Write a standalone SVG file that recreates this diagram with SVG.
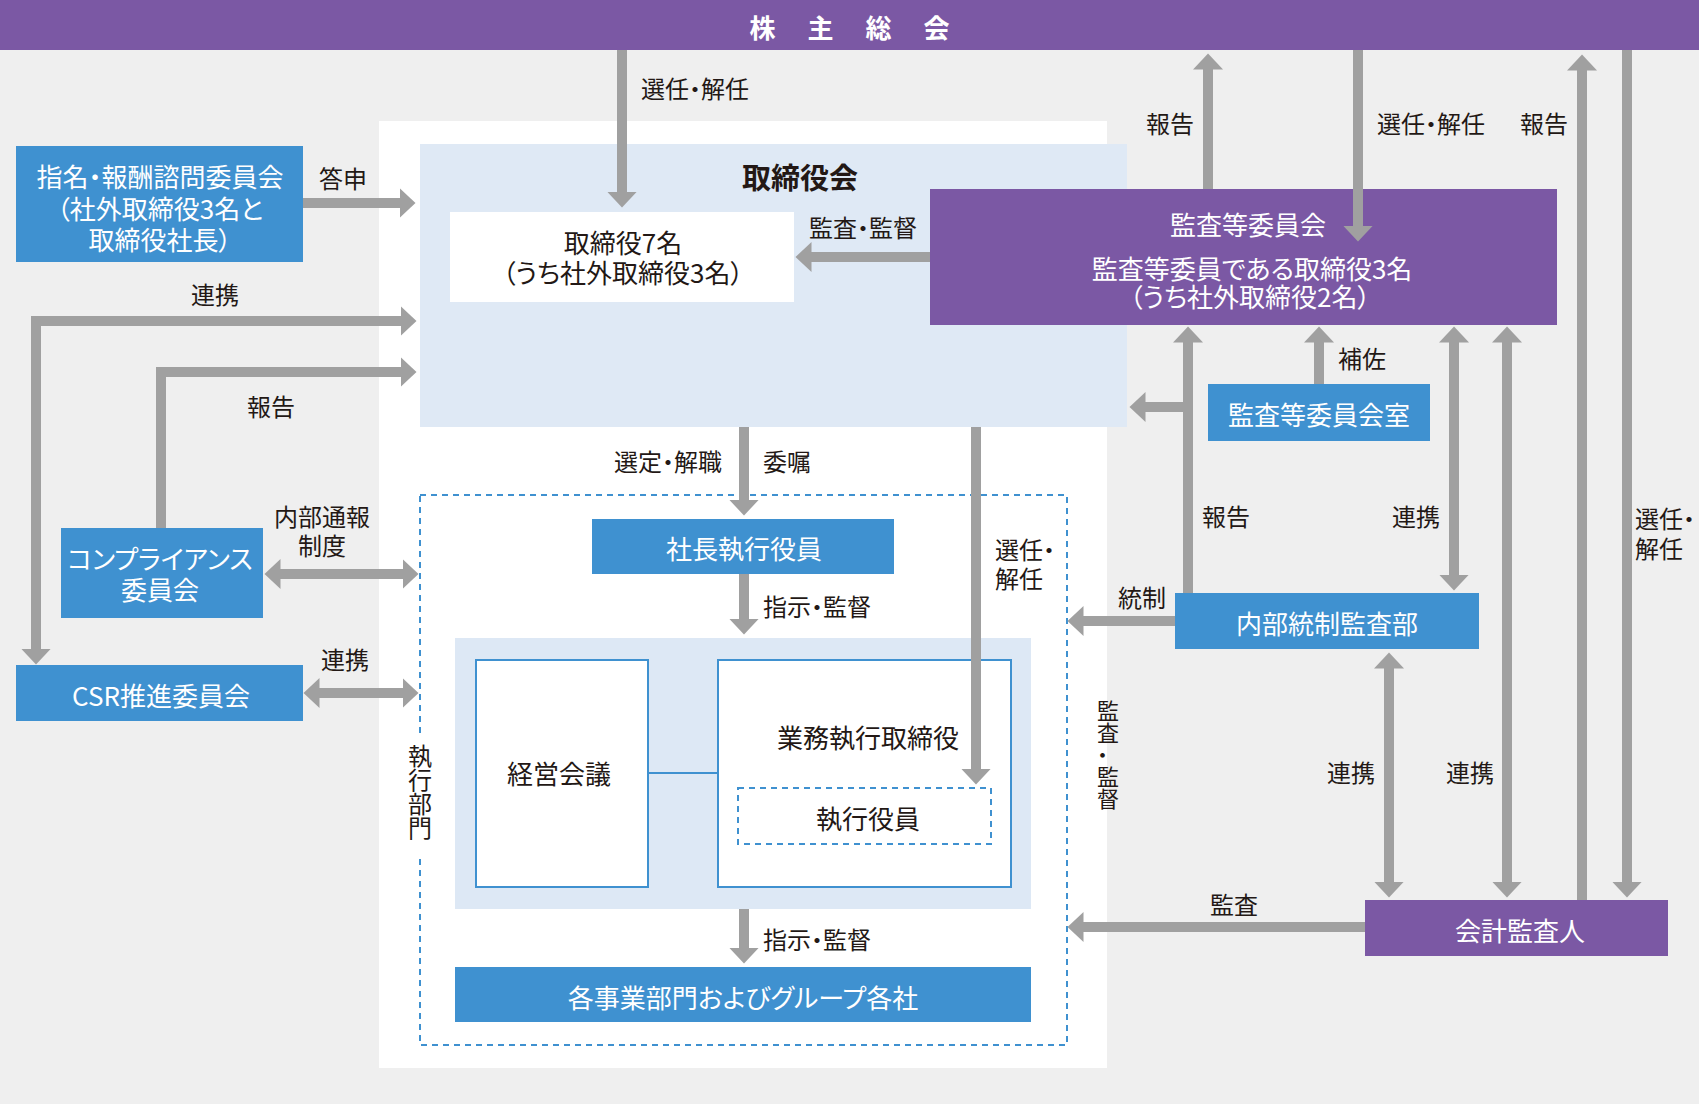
<svg xmlns="http://www.w3.org/2000/svg" width="1699" height="1104" viewBox="0 0 1699 1104">
<defs>
<style>
text{font-family:'Noto Sans CJK JP','Noto Sans',sans-serif;font-feature-settings:"palt";}
.arr{stroke:#a0a0a0;stroke-width:10;fill:none;}
.ah{marker-end:url(#ah);}
.both{marker-start:url(#ah);marker-end:url(#ah);}
.lbl{font-size:24px;fill:#231815;text-anchor:middle;dominant-baseline:central;}
.lbs{font-size:24px;fill:#231815;text-anchor:start;dominant-baseline:central;}
.vt{fill:#231815;writing-mode:vertical-rl;text-anchor:start;}
.nt{font-size:26px;fill:#ffffff;text-anchor:middle;dominant-baseline:central;}
.dt{font-size:26px;fill:#231815;text-anchor:middle;dominant-baseline:central;}
.blue{fill:#3f91d0;}
.purple{fill:#7b58a4;}
.wbox{fill:#ffffff;stroke:#3f91d0;stroke-width:2;}
.dash{fill:none;stroke:#3f91d0;stroke-width:2;stroke-dasharray:6 5;}
</style>
<marker id="ah" markerUnits="userSpaceOnUse" markerWidth="17" markerHeight="32" viewBox="0 0 17 32" refX="0.5" refY="16" orient="auto-start-reverse">
<path d="M0,1 L16,16 L0,31 z" fill="#a0a0a0"/>
</marker>
</defs>
<rect x="0" y="0" width="1699" height="1104" fill="#efefef"/>
<rect x="379" y="121" width="728" height="947" fill="#ffffff"/>

<g id="shareholders">
<rect x="0" y="0" width="1699" height="50" class="purple"/>
<text x="851" y="26" font-size="26" font-weight="bold" fill="#ffffff" text-anchor="middle" dominant-baseline="central" letter-spacing="3">株　主　総　会</text>
</g>

<g id="board">
<rect x="420" y="144" width="707" height="283" fill="#dfe9f5"/>
<text x="800" y="176" font-size="29" font-weight="bold" fill="#231815" text-anchor="middle" dominant-baseline="central">取締役会</text>
</g>
<g id="directors">
<rect x="450" y="212" width="344" height="90" fill="#ffffff"/>
<text class="dt" x="623" y="241">取締役7名</text>
<text class="dt" x="623" y="271">（うち社外取締役3名）</text>
</g>
<g id="audit-committee">
<rect x="930" y="189" width="627" height="136" class="purple"/>
<text class="nt" x="1248" y="223">監査等委員会</text>
<text class="nt" x="1252" y="267">監査等委員である取締役3名</text>
<text class="nt" x="1250" y="295">（うち社外取締役2名）</text>
</g>
<g id="nomination">
<rect x="16" y="146" width="287" height="116" class="blue"/>
<text class="nt" x="160" y="175">指名・報酬諮問委員会</text>
<text class="nt" x="160" y="207">（社外取締役3名と</text>
<text class="nt" x="160" y="238">取締役社長）</text>
</g>
<g id="compliance">
<rect x="61" y="528" width="202" height="90" class="blue"/>
<text class="nt" x="160" y="557">コンプライアンス</text>
<text class="nt" x="160" y="588">委員会</text>
</g>
<g id="csr">
<rect x="16" y="665" width="287" height="56" class="blue"/>
<text class="nt" x="161" y="694">CSR推進委員会</text>
</g>
<g id="audit-office">
<rect x="1208" y="384" width="222" height="57" class="blue"/>
<text class="nt" x="1319" y="413">監査等委員会室</text>
</g>
<g id="internal-audit">
<rect x="1175" y="593" width="304" height="56" class="blue"/>
<text class="nt" x="1327" y="622">内部統制監査部</text>
</g>
<g id="accounting-auditor">
<rect x="1365" y="900" width="303" height="56" class="purple"/>
<text class="nt" x="1520" y="929">会計監査人</text>
</g>

<g id="execution-division">
<rect x="420" y="495" width="647" height="550" class="dash"/>
<rect x="406" y="734" width="28" height="124" fill="#ffffff"/>
<text class="vt" x="420" y="744" font-size="24">執行部門</text>
</g>
<g id="president">
<rect x="592" y="519" width="302" height="55" class="blue"/>
<text class="nt" x="744" y="547">社長執行役員</text>
</g>
<g id="management">
<rect x="455" y="638" width="576" height="271" fill="#dde8f5"/>
<line x1="648" y1="773" x2="718" y2="773" stroke="#3f91d0" stroke-width="2"/>
</g>
<g id="management-meeting">
<rect x="476" y="660" width="172" height="227" class="wbox"/>
<text class="dt" x="559" y="772">経営会議</text>
</g>
<g id="executive-directors">
<rect x="718" y="660" width="293" height="227" class="wbox"/>
<text class="dt" x="868" y="736">業務執行取締役</text>
</g>
<g id="executive-officers">
<rect x="738" y="788" width="253" height="56" class="dash"/>
<text class="dt" x="868" y="817">執行役員</text>
</g>
<g id="business-units">
<rect x="455" y="967" width="576" height="55" class="blue"/>
<text class="nt" x="743" y="996">各事業部門およびグループ各社</text>
</g>

<g id="connectors">
<line class="arr ah" x1="622" y1="50" x2="622" y2="192"/>
<line class="arr ah" x1="303" y1="203" x2="400" y2="203"/>
<path class="arr both" d="M401,321 H36 V649"/>
<path class="arr ah" d="M161,528 V372 H401"/>
<line class="arr both" x1="280" y1="574" x2="403" y2="574"/>
<line class="arr both" x1="319" y1="693" x2="403" y2="693"/>
<line class="arr ah" x1="930" y1="257" x2="811" y2="257"/>
<line class="arr ah" x1="1208" y1="189" x2="1208" y2="69"/>
<line class="arr ah" x1="1358" y1="50" x2="1358" y2="226"/>
<line class="arr ah" x1="1582" y1="900" x2="1582" y2="70"/>
<line class="arr ah" x1="1627" y1="50" x2="1627" y2="882"/>
<line class="arr ah" x1="1319" y1="384" x2="1319" y2="342"/>
<line class="arr ah" x1="1188" y1="593" x2="1188" y2="342"/>
<line class="arr ah" x1="1188" y1="407" x2="1145" y2="407"/>
<line class="arr both" x1="1454" y1="342" x2="1454" y2="575"/>
<line class="arr both" x1="1507" y1="342" x2="1507" y2="882"/>
<line class="arr both" x1="1389" y1="668" x2="1389" y2="882"/>
<line class="arr ah" x1="1365" y1="927" x2="1083" y2="927"/>
<line class="arr ah" x1="1175" y1="621" x2="1083" y2="621"/>
<line class="arr ah" x1="976" y1="427" x2="976" y2="769"/>
<line class="arr ah" x1="744" y1="427" x2="744" y2="500"/>
<line class="arr ah" x1="744" y1="574" x2="744" y2="619"/>
<line class="arr ah" x1="744" y1="909" x2="744" y2="948"/>
</g>

<g id="labels">
<text class="lbl" x="695" y="87">選任・解任</text>
<text class="lbl" x="343" y="177">答申</text>
<text class="lbl" x="215" y="293">連携</text>
<text class="lbl" x="271" y="405">報告</text>
<text class="lbl" x="863" y="226">監査・監督</text>
<text class="lbl" x="1170" y="122">報告</text>
<text class="lbl" x="1431" y="122">選任・解任</text>
<text class="lbl" x="1544" y="122">報告</text>
<text class="lbl" x="1362" y="357">補佐</text>
<text class="lbl" x="668" y="460">選定・解職</text>
<text class="lbl" x="787" y="460">委嘱</text>
<text class="lbl" x="322" y="515">内部通報</text>
<text class="lbl" x="322" y="544">制度</text>
<text class="lbl" x="345" y="658">連携</text>
<text class="lbs" x="763" y="605">指示・監督</text>
<text class="lbs" x="763" y="938">指示・監督</text>
<text class="lbs" x="995" y="548">選任・</text>
<text class="lbs" x="995" y="577">解任</text>
<text class="lbl" x="1142" y="596">統制</text>
<text class="lbl" x="1226" y="515">報告</text>
<text class="lbl" x="1416" y="515">連携</text>
<text class="lbs" x="1635" y="517">選任・</text>
<text class="lbs" x="1635" y="547">解任</text>
<text class="lbl" x="1351" y="771">連携</text>
<text class="lbl" x="1470" y="771">連携</text>
<text class="lbl" x="1234" y="903">監査</text>
<text class="vt" x="1108" y="700" font-size="22">監査・監督</text>
</g>
</svg>
